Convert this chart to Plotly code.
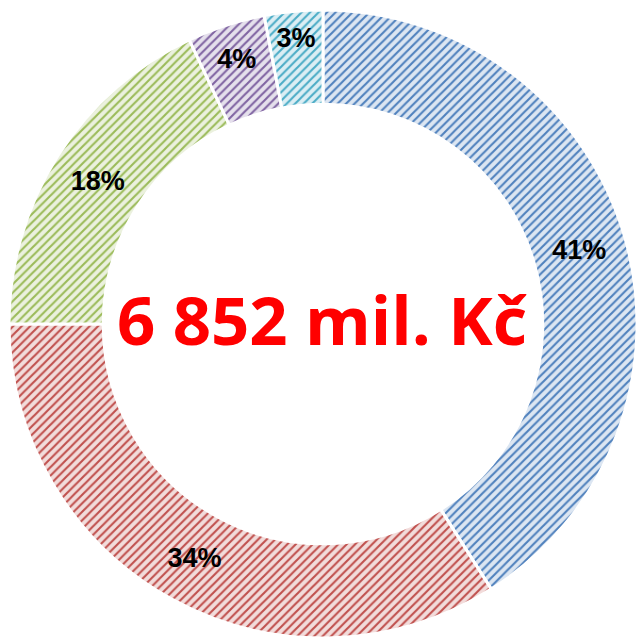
import plotly.graph_objects as go

labels = ["A", "B", "C", "D", "E"]
values = [41, 34, 18, 4, 3]
text_labels = ["41%", "34%", "18%", "4%", "3%"]
bg_colors = ["#dce6f2", "#f2dcdb", "#ebf1de", "#e5e0ec", "#dbeef4"]
line_colors = ["#4f81bd", "#c0504d", "#9bbb59", "#8064a2", "#4bacc6"]
center_text = "6 852 mil. Kč"

W, H = 637, 640

fig = go.Figure(go.Pie(
    labels=labels,
    values=values,
    text=text_labels,
    textinfo="text",
    textposition="inside",
    insidetextorientation="horizontal",
    textfont=dict(family="Liberation Sans", size=27, color="black", weight="bold"),
    hole=0.70,
    sort=False,
    direction="clockwise",
    rotation=0,
    marker=dict(
        colors=bg_colors,
        line=dict(color="white", width=3),
        pattern=dict(shape="/", fgcolor=line_colors, bgcolor=bg_colors,
                     size=6, solidity=0.35, fillmode="replace"),
    ),
    domain=dict(x=[9 / W, 1.0], y=[0.0, 632 / H]),
    showlegend=False,
))

fig.add_annotation(
    x=322 / W, y=(H - 319) / H, xref="paper", yref="paper",
    text=center_text, showarrow=False,
    font=dict(family="Open Sans", size=67, color="#ff0000", weight="bold"),
)

fig.update_layout(
    width=W, height=H,
    margin=dict(l=0, r=0, t=0, b=0),
    paper_bgcolor="white",
    plot_bgcolor="white",
)

fig.write_html(
    "out.html",
    config={"displayModeBar": False},
    post_script="document.body.style.margin='0';document.body.style.overflow='hidden';",
)
